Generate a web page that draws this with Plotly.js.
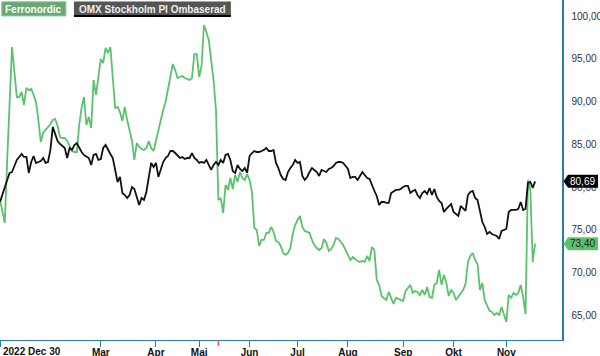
<!DOCTYPE html>
<html>
<head>
<meta charset="utf-8">
<script src="https://cdn.plot.ly/plotly-3.0.1.min.js"></script>
<style>html,body{margin:0;padding:0;background:#fff;}#chart{width:600px;height:356px;}</style>
</head>
<body>
<div id="chart"></div>
<script>
// Trading-day series (index 0 = 2022 Dec 30)
const ferronordic = [
78.51,77.10,75.82,83.19,90.20,96.40,93.48,90.55,90.55,91.14,
89.62,91.61,91.37,91.49,90.79,89.97,87.86,85.29,86.34,86.70,
86.93,87.40,87.86,87.98,87.16,85.88,85.76,85.76,85.41,84.71,
84.24,84.12,84.12,87.28,89.27,90.55,87.28,88.22,86.93,92.54,
90.79,92.89,95.00,94.53,96.29,95.70,96.40,92.78,89.27,89.39,
88.80,87.75,89.39,87.86,86.46,85.41,83.19,85.17,84.71,84.47,
84.36,84.59,85.41,84.59,84.24,85.53,86.58,87.86,89.03,89.97,
91.61,93.13,94.41,93.71,92.78,92.89,93.01,92.78,92.66,92.54,
92.78,95.58,95.58,92.89,94.18,98.98,98.16,97.22,94.88,92.54,
89.03,78.51,78.74,76.99,80.26,79.68,81.08,79.79,81.43,80.61,
81.78,81.08,80.85,81.55,80.85,79.44,75.23,75.00,73.13,73.83,
73.83,74.65,74.65,75.35,74.77,73.71,73.60,73.13,72.31,72.08,
72.31,72.89,74.53,75.58,76.17,76.64,75.35,74.88,74.77,74.65,
73.83,73.24,72.89,72.66,72.89,73.95,73.48,72.54,72.78,73.24,
74.06,73.95,73.60,73.24,72.66,72.08,71.49,71.84,71.61,71.37,
71.26,71.37,71.26,71.96,71.37,73.01,72.66,69.15,68.57,67.28,
67.05,66.81,67.75,66.93,66.34,67.05,66.93,66.81,66.70,67.87,
68.22,68.57,67.63,67.87,67.75,67.40,67.98,67.40,68.33,67.16,
67.05,68.57,68.80,70.32,68.57,69.74,68.80,67.28,67.98,67.63,
66.81,67.16,67.63,67.98,68.68,71.26,71.96,72.31,71.49,71.02,
67.98,68.80,66.81,66.11,65.53,65.41,65.06,65.29,65.06,65.99,
65.06,64.24,67.40,67.05,67.63,67.40,67.63,68.57,67.16,65.17,
80.85,79.68,71.26,73.40];

const omxRebased = [
78.27,79.21,79.91,80.85,81.67,81.78,82.48,83.19,83.54,83.89,
83.54,83.54,81.67,82.95,83.65,82.84,82.95,83.07,83.42,82.84,
82.95,84.36,87.05,86.11,85.41,85.06,84.82,84.59,83.42,84.59,
84.36,84.94,85.17,84.59,84.12,83.77,83.54,83.42,82.60,83.77,
83.89,83.19,83.30,84.59,84.94,84.36,83.89,83.42,82.02,80.61,
81.20,79.33,79.09,78.74,79.09,80.03,79.79,78.98,77.92,78.74,
78.51,79.44,81.20,82.84,82.37,82.84,81.20,82.02,82.95,83.42,
83.65,84.24,84.24,84.00,83.65,83.42,83.54,83.30,83.42,83.42,
84.00,83.42,83.19,82.84,82.95,82.84,83.19,82.60,82.02,82.60,
82.95,82.60,83.19,82.84,83.77,83.89,83.19,81.90,81.67,82.60,
82.13,81.90,82.25,81.67,83.65,84.00,84.24,84.12,84.12,84.24,
84.36,84.59,84.24,84.24,84.36,82.84,82.25,81.43,80.96,80.85,
81.78,82.25,82.60,83.19,82.84,82.95,81.32,80.85,81.20,81.78,
82.25,82.02,81.78,81.32,82.02,81.90,81.78,82.13,82.25,82.48,
82.84,82.95,82.95,82.84,82.48,82.13,81.08,81.20,81.20,80.85,
81.32,81.78,81.43,81.08,80.96,80.15,79.56,78.98,77.92,78.27,
78.27,78.16,78.16,79.33,79.56,79.68,79.68,79.79,80.03,80.15,
80.15,79.33,79.56,79.68,79.09,78.74,79.33,79.56,79.21,79.91,
79.09,79.79,78.86,78.39,78.16,77.10,77.46,77.81,78.04,77.10,
76.87,76.64,77.81,77.46,77.22,79.09,79.44,79.56,78.74,78.51,
77.34,75.93,75.35,74.53,74.77,74.53,74.41,74.30,73.95,74.88,
75.00,75.12,77.10,77.34,77.34,77.34,77.46,78.27,77.34,77.46,
80.50,80.61,79.91,80.69];

const seriesNames = ["Ferronordic", "OMX Stockholm PI Ombaserad"];
const tickIdx = [0, 42, 65, 83, 104, 124, 145, 168, 189, 211];
const tickLabels = ["2022 Dec 30", "Mar", "Apr", "Mai", "Jun", "Jul", "Aug", "Sep", "Okt", "Nov"];
const yTicks = [65, 70, 75, 80, 85, 90, 95, 100];
const exDivIdx = 91;

// layout geometry
const W = 600, H = 356, ML = 0, MR = 37.7, MT = 0, MB = 16;
const PW = W - ML - MR, PH = H - MT - MB;
const yMin = 62.13, yMax = 101.9;
const xMax = 234.2;
const px = v => v / PW;            // px -> paper x
const py = v => 1 - v / PH;        // px from top -> paper y
const valToPaper = v => (v - yMin) / (yMax - yMin);

const GREEN = '#5bc26c', BLACK = '#111111', AXIS = '#2a7ab4';
const FONT = 'Liberation Sans, Arial, sans-serif';
const fmt = v => v.toFixed(2).replace('.', ',');

const traces = [
  {y: ferronordic, name: seriesNames[0], type: 'scatter', mode: 'lines',
   line: {color: GREEN, width: 1.8}},
  {y: omxRebased, name: seriesNames[1], type: 'scatter', mode: 'lines',
   line: {color: BLACK, width: 1.8}}
];

function valueTag(v, fill) {
  const yc = valToPaper(v);
  const hh = 6.5 / PH;
  const xt = 1 + px(1.5), xb = 1 + px(6), xr = 1 + px(36);
  return {type: 'path', xref: 'paper', yref: 'paper', layer: 'above',
    path: `M ${xt} ${yc} L ${xb} ${yc + hh} L ${xr} ${yc + hh} L ${xr} ${yc - hh} L ${xb} ${yc - hh} Z`,
    fillcolor: fill, line: {width: 0}};
}

const lastG = ferronordic[ferronordic.length - 1];
const lastB = omxRebased[omxRebased.length - 1];

const shapes = [
  // legend boxes
  {type: 'rect', xref: 'paper', yref: 'paper', x0: px(1.7), x1: px(66), y0: py(16), y1: py(1.7),
   fillcolor: '#68a875', line: {color: '#8fd69b', width: 1}, layer: 'above'},
  {type: 'rect', xref: 'paper', yref: 'paper', x0: px(74), x1: px(231), y0: py(16), y1: py(1.5),
   fillcolor: '#555555', line: {width: 0}, layer: 'above'},
  {type: 'line', xref: 'paper', yref: 'paper', x0: px(74), x1: px(231), y0: py(16), y1: py(16),
   line: {color: '#000', width: 2}, layer: 'above'},
  // ex-dividend marker tick on the x axis
  {type: 'line', xref: 'x', yref: 'paper', x0: exDivIdx, x1: exDivIdx, y0: 0, y1: -6 / PH,
   line: {color: '#ff4d4d', width: 1.5}, layer: 'above'},
  valueTag(lastB, '#000000'),
  valueTag(lastG, GREEN)
];

const annotations = [
  {xref: 'paper', yref: 'paper', x: px(34), y: py(9), text: '<b>' + seriesNames[0] + '</b>',
   showarrow: false, xanchor: 'center', yanchor: 'middle', font: {family: FONT, size: 10, color: '#ffffff'}},
  {xref: 'paper', yref: 'paper', x: px(153), y: py(9), text: '<b>' + seriesNames[1] + '</b>',
   showarrow: false, xanchor: 'center', yanchor: 'middle', font: {family: FONT, size: 10, color: '#eeeeee'}},
  {xref: 'x', yref: 'paper', x: tickIdx[0], y: py(PH + 11), text: '<b>' + tickLabels[0] + '</b>',
   showarrow: false, xanchor: 'left', yanchor: 'middle', xshift: 1, font: {family: FONT, size: 10, color: '#111'}},
  {xref: 'paper', yref: 'paper', x: 1 + px(21), y: valToPaper(lastB), text: fmt(lastB),
   showarrow: false, xanchor: 'center', yanchor: 'middle', font: {family: FONT, size: 10, color: '#ffffff'}},
  {xref: 'paper', yref: 'paper', x: 1 + px(21), y: valToPaper(lastG), text: fmt(lastG),
   showarrow: false, xanchor: 'center', yanchor: 'middle', font: {family: FONT, size: 10, color: '#222222'}}
];

const layout = {
  width: W, height: H,
  margin: {l: ML, r: MR, t: MT, b: MB, pad: 0},
  paper_bgcolor: '#ffffff', plot_bgcolor: '#ffffff',
  showlegend: false,
  separators: ',.',
  font: {family: FONT, size: 10, color: '#333'},
  xaxis: {
    range: [0, xMax], showgrid: false, zeroline: false,
    showline: true, linecolor: AXIS, linewidth: 1,
    ticks: 'outside', ticklen: 6, tickcolor: AXIS, tickwidth: 1,
    tickmode: 'array', tickvals: tickIdx,
    ticktext: tickLabels.map((t, i) => i === 0 ? '' : '<b>' + t + '</b>'),
    tickfont: {family: FONT, size: 10, color: '#111'},
    ticklabelstandoff: -3
  },
  yaxis: {
    side: 'right', range: [yMin, yMax], showgrid: false, zeroline: false,
    showline: true, linecolor: AXIS, linewidth: 1.5,
    ticks: '', tickmode: 'array', tickvals: yTicks,
    tickformat: '.2f', tickfont: {family: FONT, size: 10, color: '#333'},
    ticklabelstandoff: 6
  },
  shapes: shapes,
  annotations: annotations
};

Plotly.newPlot('chart', traces, layout, {staticPlot: true, displayModeBar: false});
</script>
</body>
</html>
